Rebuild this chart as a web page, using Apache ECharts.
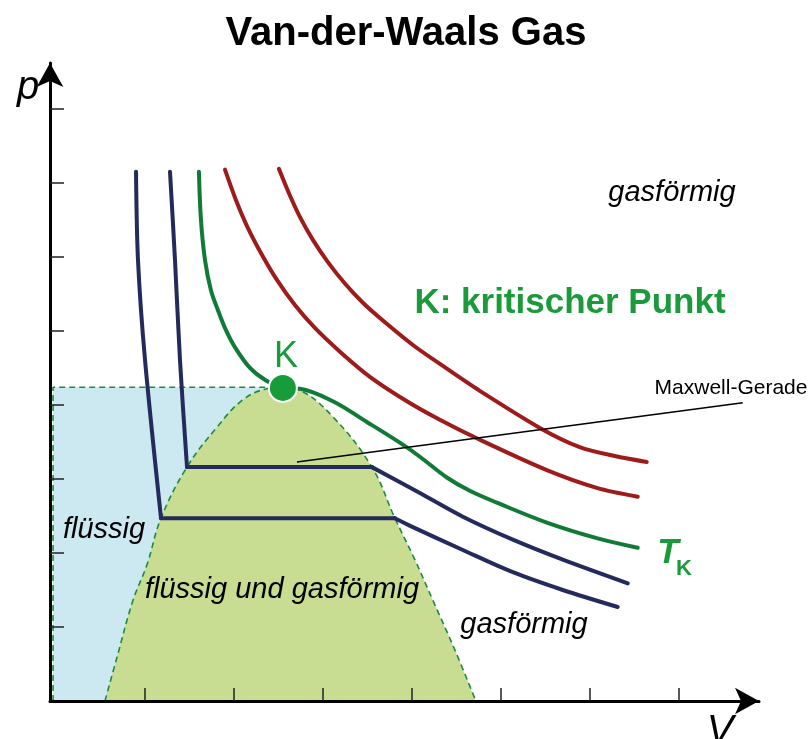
<!DOCTYPE html>
<html><head><meta charset="utf-8">
<script src="https://cdn.jsdelivr.net/npm/echarts@6/dist/echarts.min.js"></script>
<style>html,body{margin:0;padding:0;background:#fff}#c{width:812px;height:739px}</style>
</head><body><div id="c"></div>
<script>
// Axis ticks (V and p in arbitrary units)
const xTicks = [1, 2, 3, 4, 5, 6, 7];
const yTicks = [1, 2, 3, 4, 5, 6, 7, 8];

// Isotherms above T_K (red)
const red1V = [1.897, 2.020, 2.155, 2.312, 2.481, 2.683, 2.908, 3.189, 3.526, 3.942, 4.312, 4.762, 5.515, 6.076, 6.537];
const red1P = [7.18, 6.77, 6.39, 6.03, 5.69, 5.35, 5.04, 4.72, 4.38, 4.05, 3.80, 3.53, 3.12, 2.88, 2.76];
const red2V = [2.503, 2.616, 2.739, 2.885, 3.054, 3.245, 3.447, 3.672, 4.009, 4.391, 4.762, 5.436, 5.885, 6.279, 6.638];
const red2P = [7.19, 6.86, 6.54, 6.23, 5.93, 5.64, 5.38, 5.14, 4.81, 4.49, 4.19, 3.69, 3.43, 3.31, 3.23];

// Critical isotherm T_K (green)
const greenV = [1.604, 1.627, 1.672, 1.739, 1.818, 1.908, 2.009, 2.178, 2.346, 2.548, 2.739, 3.110, 3.492, 3.863, 4.088, 4.391, 4.649, 4.953, 5.515, 6.076, 6.537];
const greenP = [7.15, 6.50, 5.96, 5.55, 5.28, 5.01, 4.78, 4.50, 4.34, 4.23, 4.22, 4.05, 3.77, 3.49, 3.30, 3.02, 2.84, 2.68, 2.41, 2.20, 2.07];

// Isotherms below T_K (blue): liquid branch, Maxwell plateau, gas branch
const blueInnerLiqV = [1.279, 1.335, 1.391, 1.470];
const blueInnerLiqP = [7.15, 5.96, 4.61, 3.16];
const blueInnerGasV = [3.548, 4.088, 4.571, 5.133, 5.694, 6.425];
const blueInnerGasP = [3.16, 2.81, 2.49, 2.18, 1.91, 1.59];
const blueOuterLiqV = [0.897, 0.919, 0.998, 1.178];
const blueOuterLiqP = [7.15, 5.96, 4.61, 2.47];
const blueOuterGasV = [3.807, 4.009, 4.571, 5.133, 5.694, 6.312];
const blueOuterGasP = [2.47, 2.35, 2.04, 1.74, 1.50, 1.27];

// Coexistence dome (binodal)
const domeV = [0.548, 0.683, 0.863, 1.020, 1.178, 1.470, 1.807, 2.099, 2.369, 2.550, 2.739, 3.110, 3.548, 3.807, 4.031, 4.234, 4.481, 4.717];
const domeP = [0, 0.59, 1.36, 1.84, 2.47, 3.16, 3.70, 4.07, 4.22, 4.24, 4.20, 3.84, 3.16, 2.47, 1.91, 1.36, 0.69, 0];

// Liquid region boundary (rectangle up to critical pressure)
const liquidV = [-0.036, -0.036, 2.550];
const liquidP = [0, 4.24, 4.24];

// Critical point
const critV = [2.548];
const critP = [4.23];

// Maxwell pointer line
const maxwellV = [2.706, 7.717];
const maxwellP = [3.23, 4.03];

const pts = (v, p) => v.map((x, i) => [x, p[i]]);
const last = (v, p) => [v[v.length - 1], p[p.length - 1]];
const FONT = '"Liberation Sans", Arial, sans-serif';
const RED = '#9e1b1b', GREEN = '#117a36', BLUE = '#242a5c', TXTGREEN = '#1b9a3c';

function curve(data, color, smooth) {
  return {type: 'line', data: data, smooth: smooth, showSymbol: false, silent: true, z: 5,
    lineStyle: {color: color, width: 4, cap: 'round', join: 'round'}};
}

const option = {
  animation: false,
  backgroundColor: '#fff',
  title: {text: 'Van-der-Waals Gas', left: 'center', top: 9,
    textStyle: {fontFamily: FONT, fontSize: 40, fontWeight: 'bold', color: '#000'}},
  grid: {left: 50, right: 53, top: 63, bottom: 38},
  xAxis: {type: 'value', min: -0.07, max: 7.90, z: 10,
    axisLine: {show: true, onZero: false, symbol: ['none', 'arrow'], symbolSize: [20, 24], lineStyle: {color: '#000', width: 3}},
    axisTick: {show: true, inside: true, length: 13, customValues: xTicks, lineStyle: {color: '#222', width: 1.5}},
    axisLabel: {show: false}, splitLine: {show: false}},
  yAxis: {type: 'value', min: 0, max: 8.62, z: 10,
    axisLine: {show: true, onZero: false, symbol: ['none', 'arrow'], symbolSize: [20, 24], lineStyle: {color: '#000', width: 3}},
    axisTick: {show: true, inside: true, length: 14, customValues: yTicks, lineStyle: {color: '#222', width: 1.5}},
    axisLabel: {show: false}, splitLine: {show: false}},
  series: [
    {type: 'line', data: pts(liquidV, liquidP), showSymbol: false, silent: true, z: 1,
      lineStyle: {color: '#1f8a3f', width: 1.6, type: [6, 4]},
      areaStyle: {color: '#cce8f0', opacity: 1}},
    {type: 'line', data: pts(domeV, domeP), smooth: 0.4, showSymbol: false, silent: true, z: 2,
      lineStyle: {color: '#1f8a3f', width: 1.6, type: [6, 4]},
      areaStyle: {color: '#c8dc92', opacity: 1}},
    curve(pts(red2V, red2P), RED, 0.3),
    curve(pts(red1V, red1P), RED, 0.3),
    curve(pts(greenV, greenP), GREEN, 0.35),
    curve(pts(blueInnerLiqV, blueInnerLiqP), BLUE, 0.3),
    curve([last(blueInnerLiqV, blueInnerLiqP), [blueInnerGasV[0], blueInnerGasP[0]]], BLUE, false),
    curve(pts(blueInnerGasV, blueInnerGasP), BLUE, 0.3),
    curve(pts(blueOuterLiqV, blueOuterLiqP), BLUE, 0.3),
    curve([last(blueOuterLiqV, blueOuterLiqP), [blueOuterGasV[0], blueOuterGasP[0]]], BLUE, false),
    curve(pts(blueOuterGasV, blueOuterGasP), BLUE, 0.3),
    {type: 'line', data: pts(maxwellV, maxwellP), showSymbol: false, silent: true, z: 6,
      lineStyle: {color: '#000', width: 1.5}},
    {type: 'scatter', data: pts(critV, critP), symbolSize: 28, silent: true, z: 7,
      itemStyle: {color: '#189c3a', borderColor: '#fff', borderWidth: 2, opacity: 1}}
  ],
  graphic: [
    {type: 'text', x: 28, y: 88, z: 10, style: {text: 'p', fontFamily: FONT, fontSize: 40, fontStyle: 'italic', fill: '#000', align: 'center', verticalAlign: 'middle'}},
    {type: 'text', x: 720, y: 732, z: 10, style: {text: 'V', fontFamily: FONT, fontSize: 40, fontStyle: 'italic', fill: '#000', align: 'center', verticalAlign: 'middle'}},
    {type: 'text', x: 672, y: 193, z: 10, style: {text: 'gasförmig', fontFamily: FONT, fontSize: 29, fontStyle: 'italic', fill: '#000', align: 'center', verticalAlign: 'middle'}},
    {type: 'text', x: 570, y: 303, z: 10, style: {text: 'K: kritischer Punkt', fontFamily: FONT, fontSize: 35, fontWeight: 'bold', fill: TXTGREEN, align: 'center', verticalAlign: 'middle'}},
    {type: 'text', x: 286, y: 357, z: 10, style: {text: 'K', fontFamily: FONT, fontSize: 36, fill: TXTGREEN, align: 'center', verticalAlign: 'middle'}},
    {type: 'text', x: 731, y: 388, z: 10, style: {text: 'Maxwell-Gerade', fontFamily: FONT, fontSize: 21, fill: '#000', align: 'center', verticalAlign: 'middle'}},
    {type: 'text', x: 668, y: 553, z: 10, style: {text: 'T', fontFamily: FONT, fontSize: 35, fontWeight: 'bold', fontStyle: 'italic', fill: TXTGREEN, align: 'center', verticalAlign: 'middle'}},
    {type: 'text', x: 684, y: 569, z: 10, style: {text: 'K', fontFamily: FONT, fontSize: 22, fontWeight: 'bold', fill: TXTGREEN, align: 'center', verticalAlign: 'middle'}},
    {type: 'text', x: 104, y: 530, z: 10, style: {text: 'flüssig', fontFamily: FONT, fontSize: 29, fontStyle: 'italic', fill: '#000', align: 'center', verticalAlign: 'middle'}},
    {type: 'text', x: 282, y: 590, z: 10, style: {text: 'flüssig und gasförmig', fontFamily: FONT, fontSize: 29, fontStyle: 'italic', fill: '#000', align: 'center', verticalAlign: 'middle'}},
    {type: 'text', x: 524, y: 625, z: 10, style: {text: 'gasförmig', fontFamily: FONT, fontSize: 29, fontStyle: 'italic', fill: '#000', align: 'center', verticalAlign: 'middle'}}
  ]
};
const chart = echarts.init(document.getElementById('c'), null, {renderer: 'canvas'});
chart.setOption(option);
</script></body></html>
